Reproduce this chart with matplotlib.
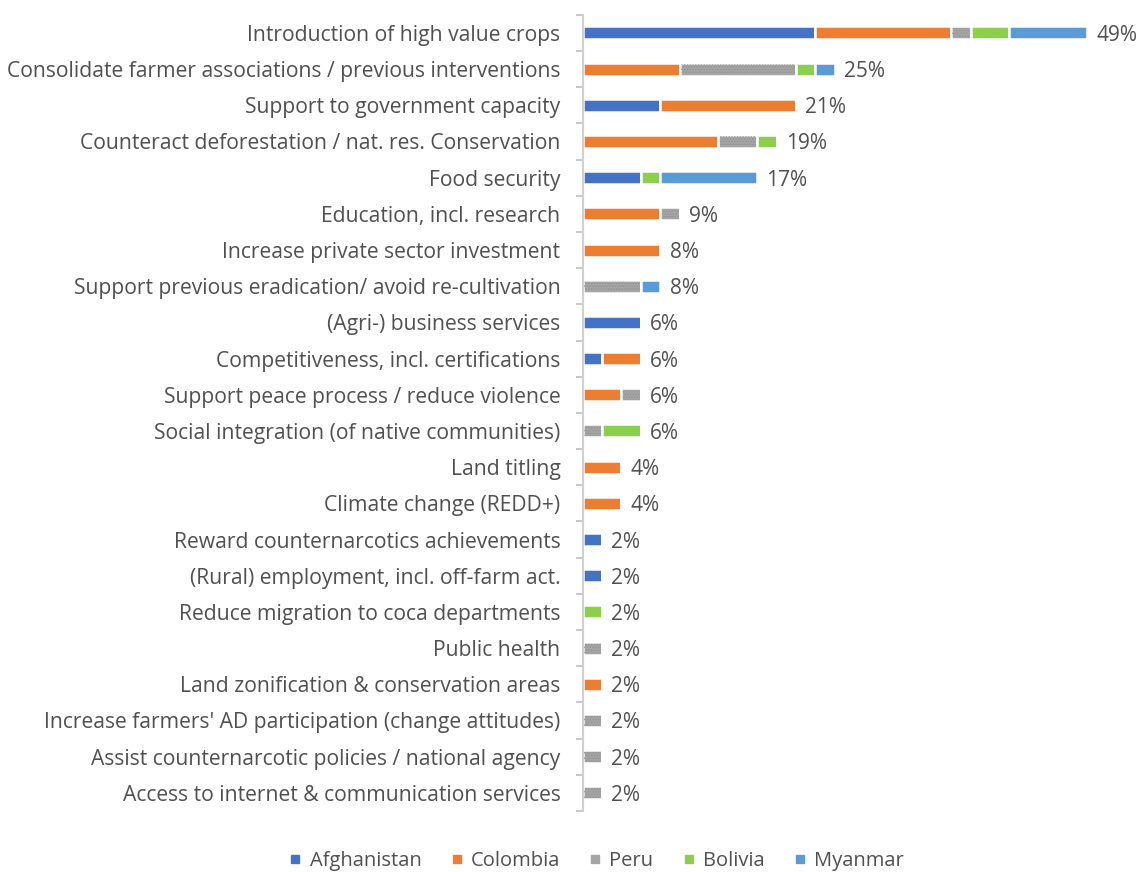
import matplotlib.pyplot as plt
from matplotlib.lines import Line2D
import numpy as np

plt.rcParams['font.family'] = ['Open Sans', 'DejaVu Sans']
plt.rcParams['hatch.linewidth'] = 0.7

# objectives mentioned, counted per country (out of 53 projects)
categorias = [
    "Introduction of high value crops",
    "Consolidate farmer associations / previous interventions",
    "Support to government capacity",
    "Counteract deforestation / nat. res. Conservation",
    "Food security",
    "Education, incl. research",
    "Increase private sector investment",
    "Support previous eradication/ avoid re-cultivation",
    "(Agri-) business services",
    "Competitiveness, incl. certifications",
    "Support peace process / reduce violence",
    "Social integration (of native communities)",
    "Land titling",
    "Climate change (REDD+)",
    "Reward counternarcotics achievements",
    "(Rural) employment, incl. off-farm act.",
    "Reduce migration to coca departments",
    "Public health",
    "Land zonification & conservation areas",
    "Increase farmers' AD participation (change attitudes)",
    "Assist counternarcotic policies / national agency",
    "Access to internet & communication services",
]

total_projetos = 53
afghanistan = [12, 0, 4, 0, 3, 0, 0, 0, 3, 1, 0, 0, 0, 0, 1, 1, 0, 0, 0, 0, 0, 0]
colombia    = [7, 5, 7, 7, 0, 4, 4, 0, 0, 2, 2, 0, 2, 2, 0, 0, 0, 0, 1, 0, 0, 0]
peru        = [1, 6, 0, 2, 0, 1, 0, 3, 0, 0, 1, 1, 0, 0, 0, 0, 0, 1, 0, 1, 1, 1]
bolivia     = [2, 1, 0, 1, 1, 0, 0, 0, 0, 0, 0, 2, 0, 0, 0, 0, 1, 0, 0, 0, 0, 0]
myanmar     = [4, 1, 0, 0, 5, 0, 0, 1, 0, 0, 0, 0, 0, 0, 0, 0, 0, 0, 0, 0, 0, 0]

paises = ["Afghanistan", "Colombia", "Peru", "Bolivia", "Myanmar"]
cores = ["#4472C4", "#ED7D31", "#A5A5A5", "#8CCF4D", "#5B9BD5"]
series = [afghanistan, colombia, peru, bolivia, myanmar]
cor_texto = "#505050"

fig = plt.figure(figsize=(11.47, 8.72), dpi=100)
ax = fig.add_axes([0.508, 0.070, 0.492, 0.913])

y = np.arange(len(categorias))
esquerda = np.zeros(len(categorias))
for nome, cor, valores in zip(paises, cores, series):
    pct = np.array(valores) / total_projetos * 100
    ax.barh(y, pct, left=esquerda, height=0.36, color=cor,
            edgecolor="white", linewidth=1.8, label=nome)
    if nome == "Peru":
        # fine grain texture over the Peru segments
        ax.barh(y, pct - 0.25, left=esquerda + 0.125, height=0.28,
                fill=False, hatch="......", edgecolor="#929292", linewidth=0)
    esquerda += pct

# total label at the end of each bar
for i, total in enumerate(esquerda):
    ax.text(total + 0.9, i, f"{total:.0f}%", va="center_baseline", ha="left",
            fontsize=15, color=cor_texto)

ax.set_xlim(0, 54.9)
ax.set_ylim(len(categorias) - 0.5, -0.5)
ax.set_yticks(y)
ax.set_yticklabels(categorias, fontsize=15.2, color=cor_texto)
ax.set_yticks(np.arange(len(categorias) + 1) - 0.5, minor=True)
ax.tick_params(axis="y", which="major", length=0, pad=16)
ax.tick_params(axis="y", which="minor", length=5, color="#BFBFBF", width=1.2)
ax.set_xticks([])
for lado in ["top", "right", "bottom"]:
    ax.spines[lado].set_visible(False)
ax.spines["left"].set_color("#D0D0D0")
ax.spines["left"].set_linewidth(1.5)

marcadores = [Line2D([0], [0], marker="s", linestyle="none", color=c,
                     markersize=6) for c in cores]
fig.legend(marcadores, paises, loc="center", bbox_to_anchor=(0.52, 0.013),
           ncol=5, frameon=False, fontsize=14.5, handlelength=0.6,
           handletextpad=0.4, columnspacing=1.45, labelcolor=cor_texto)

fig.savefig("out.png", dpi=100)
